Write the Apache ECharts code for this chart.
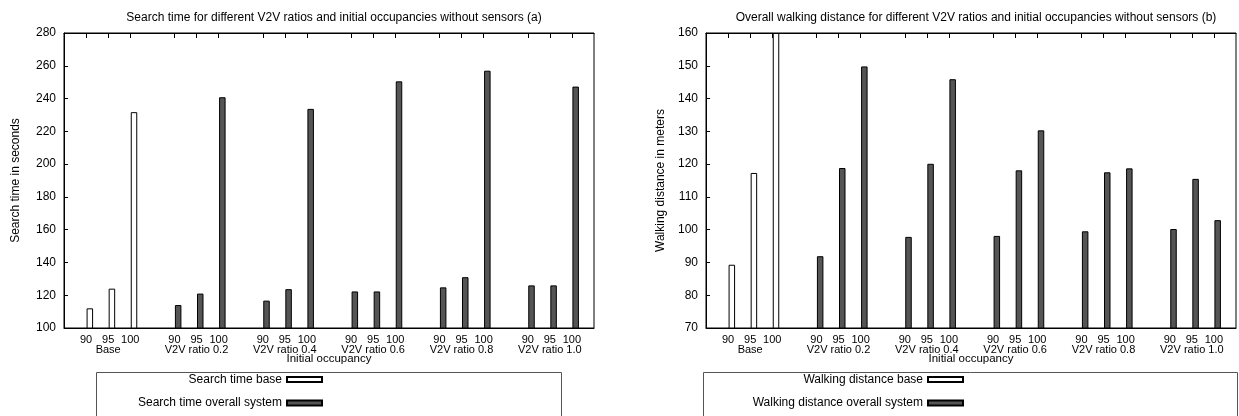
<!DOCTYPE html>
<html><head><meta charset="utf-8">
<script src="https://cdn.jsdelivr.net/npm/echarts@6/dist/echarts.min.js"></script>
<style>html,body{margin:0;padding:0;background:#fff}#c{width:1239px;height:416px}</style>
</head><body><div id="c"></div>
<script>
// ---- data ----
const groups = ['Base', 'V2V ratio 0.2', 'V2V ratio 0.4', 'V2V ratio 0.6', 'V2V ratio 0.8', 'V2V ratio 1.0'];
const occupancies = ['90', '95', '100'];
const searchBase = [112, 124, 231.7];
const searchOverall = [114, 121, 240.8, 116.7, 123.7, 233.7, 122.3, 122.3, 250.5, 124.8, 131, 257, 126, 126, 247.3];
const walkBase = [89.3, 117.3, 160];
const walkOverall = [91.9, 118.8, 149.8, 97.8, 120.1, 145.9, 98.1, 118.1, 130.3, 99.5, 117.5, 118.7, 100.2, 115.5, 102.9];
const searchTicks = [100, 280, 20];
const walkTicks = [70, 160, 10];

// ---- layout helpers ----
const FONT = 'Liberation Sans';
const SHIFT = 0.17;              // bars start at their tick
function slot(g, i) { return g * 4 + i + 1; }
const tickVals = [];
groups.forEach((_, g) => occupancies.forEach((_, i) => tickVals.push(slot(g, i))));
const groupVals = groups.map((_, g) => slot(g, 1));
function occLabel(v) {
  const s = Math.round(v) - 1, i = s % 4;
  return i <= 2 ? occupancies[i] : '';
}
function groupLabel(v) {
  const g = Math.round((Math.round(v) - 2) / 4);
  return groups[g] || '';
}
function seriesData(values, firstGroup) {
  return values.map((v, k) => [slot(firstGroup + Math.floor(k / 3), k % 3) + SHIFT, v]);
}

const grids = [
  { left: 64, top: 33, width: 530, height: 295 },
  { left: 706, top: 33, width: 530, height: 295 }
];
const txt = { color: '#000', fontFamily: FONT, fontSize: 12 };
const txtSmall = { color: '#000', fontFamily: FONT, fontSize: 11 };

function xAxes(gi) {
  return [{
    type: 'value', gridIndex: gi, min: 0, max: 24, position: 'bottom',
    axisLine: { show: true, lineStyle: { color: '#000', width: 1 } },
    axisTick: { show: false },
    splitLine: { show: false },
    axisLabel: Object.assign({ customValues: tickVals, formatter: occLabel, margin: 7, lineHeight: 10,
      showMinLabel: true, showMaxLabel: true, hideOverlap: false }, txtSmall),
    name: 'Initial occupancy', nameLocation: 'middle', nameGap: 25, nameMoveOverlap: false,
    nameTextStyle: Object.assign({}, txtSmall, { fontSize: 11.5 })
  }, {
    type: 'value', gridIndex: gi, min: 0, max: 24, position: 'top',
    axisLine: { show: true, lineStyle: { color: '#000', width: 1 } },
    axisTick: { show: true, inside: true, length: 5, customValues: tickVals, lineStyle: { color: '#000' } },
    axisLabel: { show: false },
    splitLine: { show: false }
  }, {
    type: 'value', gridIndex: gi, min: 0, max: 24, position: 'bottom', offset: 10,
    axisLine: { show: false }, axisTick: { show: false }, splitLine: { show: false },
    axisLabel: Object.assign({ customValues: groupVals, formatter: groupLabel, margin: 7, lineHeight: 10,
      showMinLabel: true, showMaxLabel: true, hideOverlap: false }, txtSmall)
  }];
}
function yAxis(gi, t, name, gap) {
  return {
    type: 'value', gridIndex: gi, min: t[0], max: t[1], interval: t[2],
    axisLine: { show: true, lineStyle: { color: '#000', width: 1 } },
    axisTick: { show: true, inside: true, length: 4, lineStyle: { color: '#000' } },
    splitLine: { show: false },
    axisLabel: Object.assign({ margin: 8 }, txt),
    name: name, nameLocation: 'middle', nameRotate: 90, nameGap: gap, nameMoveOverlap: false,
    nameTextStyle: Object.assign({}, txt)
  };
}
const whiteStyle = { color: '#ffffff', borderColor: '#000', borderWidth: 1 };
const darkStyle = { color: '#555555', borderColor: '#000', borderWidth: 1 };
function bar(name, data, xi, yi, style) {
  return { type: 'bar', name: name, xAxisIndex: xi, yAxisIndex: yi, data: data,
    barWidth: 6.5, barGap: '-100%', itemStyle: style, emphasis: { disabled: true }, animation: false };
}
function legend(names, right) {
  return { data: names, orient: 'vertical', align: 'right', right: right, top: 373.5,
    itemWidth: 35, itemHeight: 5, itemGap: 11.5, padding: 0, selectedMode: false,
    icon: 'rect', textStyle: Object.assign({}, txt) };
}

const chart = echarts.init(document.getElementById('c'), null, { renderer: 'canvas' });
chart.setOption({
  animation: false,
  backgroundColor: '#fff',
  textStyle: { fontFamily: FONT },
  title: [
    { text: 'Search time for different V2V ratios and initial occupancies without sensors (a)', left: 329, top: 7, textAlign: 'center',
      textStyle: Object.assign({ fontWeight: 'normal' }, txt) },
    { text: 'Overall walking distance for different V2V ratios and initial occupancies without sensors (b)', left: 971, top: 7, textAlign: 'center',
      textStyle: Object.assign({ fontWeight: 'normal' }, txt) }
  ],
  grid: grids.map(g => Object.assign({ show: true, borderColor: '#000', borderWidth: 1, containLabel: false }, g)),
  xAxis: xAxes(0).concat(xAxes(1)),
  yAxis: [yAxis(0, searchTicks, 'Search time in seconds', 42), yAxis(1, walkTicks, 'Walking distance in meters', 39)],
  legend: [
    legend(['Search time base', 'Search time overall system'], 916),
    legend(['Walking distance base', 'Walking distance overall system'], 275)
  ],
  graphic: [
    { type: 'rect', shape: { x: 96.5, y: 372.5, width: 465, height: 60 }, style: { fill: 'none', stroke: '#555', lineWidth: 1 }, silent: true },
    { type: 'rect', shape: { x: 703.5, y: 372.5, width: 534, height: 60 }, style: { fill: 'none', stroke: '#555', lineWidth: 1 }, silent: true }
  ],
  series: [
    bar('Search time base', seriesData(searchBase, 0), 0, 0, whiteStyle),
    bar('Search time overall system', seriesData(searchOverall, 1), 0, 0, darkStyle),
    bar('Walking distance base', seriesData(walkBase, 0), 3, 1, whiteStyle),
    bar('Walking distance overall system', seriesData(walkOverall, 1), 3, 1, darkStyle)
  ]
});
</script></body></html>
